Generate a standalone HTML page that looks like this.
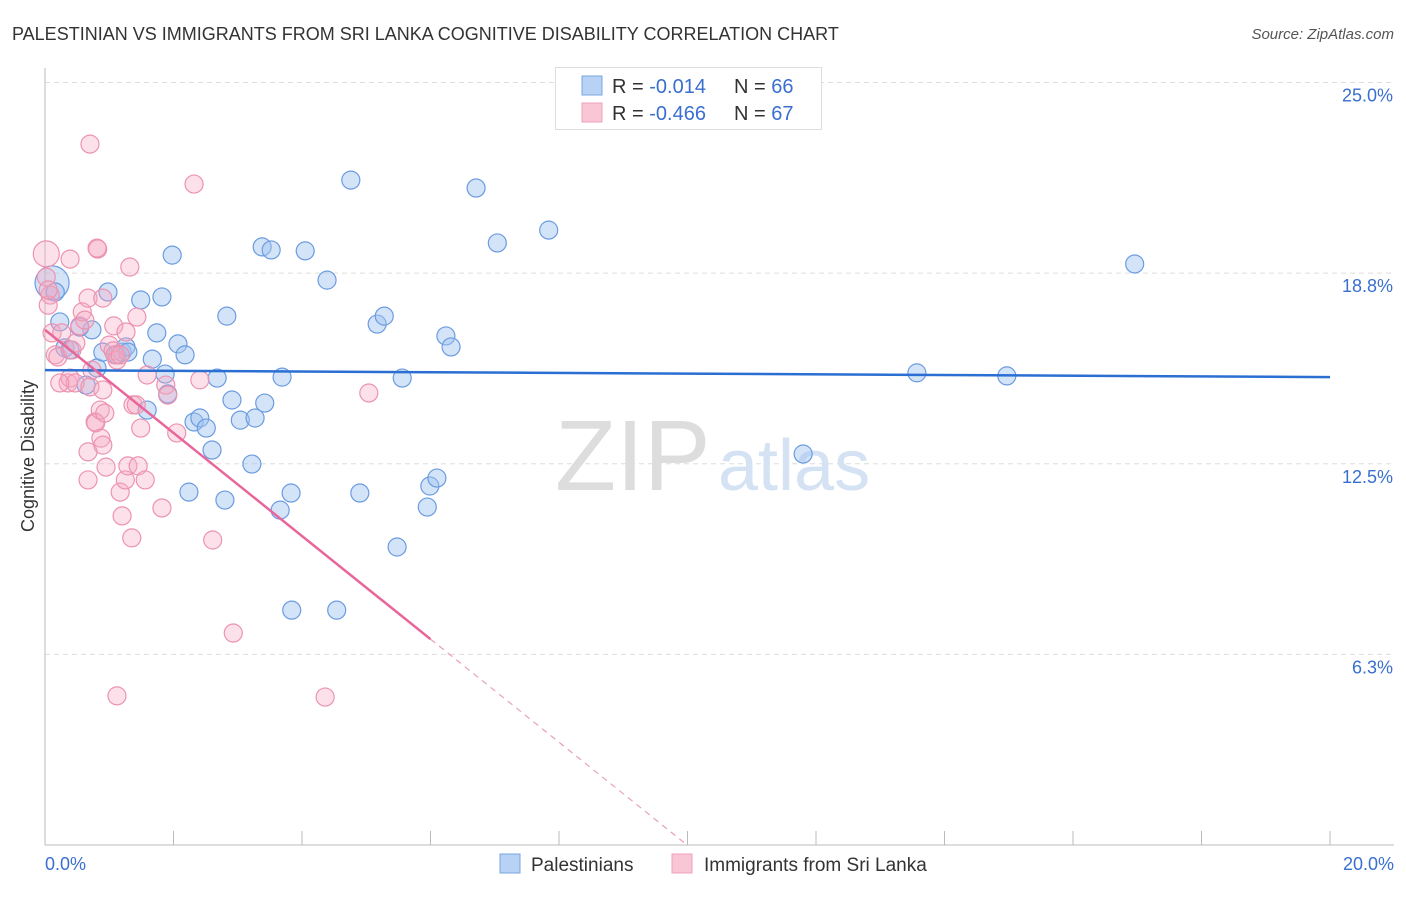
<!DOCTYPE html>
<html><head><meta charset="utf-8"><style>
body{margin:0;background:#fff;font-family:"Liberation Sans",sans-serif;}
svg text{font-family:"Liberation Sans",sans-serif;}
</style></head><body>
<svg id="chart" width="1406" height="892" xmlns="http://www.w3.org/2000/svg">
<text x="12" y="40" font-size="18" fill="#333">PALESTINIAN VS IMMIGRANTS FROM SRI LANKA COGNITIVE DISABILITY CORRELATION CHART</text>
<text x="1394" y="39" font-size="15" fill="#555" text-anchor="end" font-style="italic">Source: ZipAtlas.com</text>
<g id="grid"></g>
<g id="axes"></g>
<text x="555" y="490" font-size="100" fill="#ddd" font-family="Liberation Serif">ZIP</text>
<text x="718" y="490" font-size="72" fill="#d4e2f4">atlas</text>
<g id="pts"></g>
<g id="trends"></g>
<text transform="translate(34,456) rotate(-90)" font-size="18" fill="#333" text-anchor="middle">Cognitive Disability</text>
<g>
<rect x="555.5" y="67.5" width="266" height="62" fill="#fff" stroke="#ddd"/>
<rect x="582" y="76" width="20" height="19" fill="#b7d2f5" stroke="#7aa6e0"/>
<rect x="582" y="103" width="20" height="19" fill="#f9c6d6" stroke="#eea0ba"/>
<text x="612" y="93" font-size="20" fill="#333">R = <tspan fill="#3a6fd0">-0.014</tspan><tspan x="734">N = </tspan><tspan fill="#3a6fd0">66</tspan></text>
<text x="612" y="120" font-size="20" fill="#333">R = <tspan fill="#3a6fd0">-0.466</tspan><tspan x="734">N = </tspan><tspan fill="#3a6fd0">67</tspan></text>
</g>
<g>
<rect x="500" y="854" width="20" height="19" fill="#b7d2f5" stroke="#7aa6e0"/>
<text x="531" y="871" font-size="19" fill="#333">Palestinians</text>
<rect x="672" y="854" width="20" height="19" fill="#f9c6d6" stroke="#eea0ba"/>
<text x="704" y="871" font-size="19" fill="#333">Immigrants from Sri Lanka</text>
</g>
</svg>
<script>
const yTicks=[25,18.75,12.5,6.25];
const yTickLabels=["25.0%","18.8%","12.5%","6.3%"];
const xTicks=[0,2,4,6,8,10,12,14,16,18,20];
const blueX=[.11,.16,.23,.31,.39,.73,.54,.64,.81,.90,.98,1.12,1.20,1.26,1.29,1.49,1.67,1.74,1.82,1.87,1.98,1.91,1.59,2.07,2.18,2.32,2.41,2.51,2.60,2.68,2.83,2.91,3.04,3.27,3.22,2.24,2.80,3.38,3.52,3.42,3.69,3.66,3.83,3.84,4.05,4.39,4.54,4.76,4.90,5.17,5.28,5.48,5.56,5.95,5.99,6.10,6.24,6.32,6.71,7.04,7.84,11.80,13.57,14.97,16.96];
const blueY=[18.43,18.13,17.15,16.30,16.23,16.89,16.98,15.08,15.64,16.16,18.13,16.07,16.16,16.33,16.16,17.87,15.93,16.79,17.97,15.44,19.34,14.79,14.26,16.43,16.07,13.87,14.00,13.67,12.95,15.31,17.34,14.59,13.93,14.00,12.49,11.57,11.31,19.61,19.51,14.49,15.34,10.98,11.54,7.70,19.48,18.52,7.70,21.80,11.54,17.08,17.34,9.77,15.31,11.08,11.77,12.03,16.69,16.33,21.54,19.74,20.16,12.82,15.48,15.38,19.05];
const pinkX=[.02,.08,.05,.11,.16,.20,.26,.36,.39,.42,.47,.48,.54,.58,.62,.67,.67,.67,.70,.73,.78,.79,.82,.86,.87,.90,.95,1.00,1.06,1.07,1.12,1.17,1.20,1.25,1.26,1.29,1.32,1.35,1.37,1.43,1.45,1.49,1.56,1.59,1.82,1.88,1.91,2.05,2.32,2.41,2.61,2.93,1.12,4.36,5.04,.70,.81,.39,.02,.05,.90,1.09,.90,1.17,.23,.93,1.42];
const pinkY=[19.38,18.03,17.70,16.79,16.07,16.00,16.79,15.15,15.31,16.23,15.15,16.46,17.02,17.48,17.21,17.93,12.89,11.97,15.02,15.57,13.87,13.84,19.54,14.26,13.34,14.92,12.39,16.39,16.20,17.02,15.90,11.57,10.79,11.97,16.82,12.43,18.95,10.07,14.43,17.31,12.43,13.67,11.97,15.41,11.05,15.08,14.75,13.51,21.67,15.25,10.00,6.95,4.89,4.85,14.82,22.98,19.57,19.21,18.62,18.20,17.93,16.07,13.11,16.07,15.15,14.16,14.43];
const blueTrend=[15.57,15.34];
const pinkTrend=[16.89,-1.69];
const NS="http://www.w3.org/2000/svg";
const X=v=>45+v*64.25, Y=v=>845-v*30.5;
function mk(t,a,p){const e=document.createElementNS(NS,t);for(const k in a)e.setAttribute(k,a[k]);p.appendChild(e);return e;}
const grid=document.getElementById('grid'),axes=document.getElementById('axes');
yTicks.forEach((v,i)=>{
 const l=mk('line',{x1:45,x2:1394,y1:Y(v),y2:Y(v),stroke:'#ddd','stroke-dasharray':'5,4'},grid);
 
 
 const t=mk('text',{x:1393,y:Y(v)+19,'font-size':18,fill:'#3a6fd0','text-anchor':'end'},axes);
 t.textContent=yTickLabels[i];
 
 
});
const ax=mk('line',{x1:45,x2:45,y1:68,y2:845,stroke:'#bbb'},axes);


const bx=mk('line',{x1:45,x2:1394,y1:845,y2:845,stroke:'#bbb'},axes);


xTicks.forEach(v=>{const l=mk('line',{x1:X(v),x2:X(v),y1:831,y2:845,stroke:'#bbb'},axes);
 
 });
const t0=mk('text',{x:45,y:870,'font-size':18,fill:'#3a6fd0'},axes);t0.textContent='0.0%';


const t1=mk('text',{x:1394,y:870,'font-size':18,fill:'#3a6fd0','text-anchor':'end'},axes);t1.textContent='20.0%';


const pts=document.getElementById('pts');
blueX.forEach((v,i)=>{const c=mk('circle',{cx:X(v),cy:Y(blueY[i]),r:i==0?17:9,fill:'rgba(160,196,240,0.45)',stroke:'#6b9be0','stroke-width':1.2},pts);
 
 });
pinkX.forEach((v,i)=>{const c=mk('circle',{cx:X(v),cy:Y(pinkY[i]),r:i==0?13:9,fill:'rgba(246,170,195,0.35)',stroke:'#ec93b0','stroke-width':1.2},pts);
 
 });
const tr=document.getElementById('trends');
const b=mk('line',{x1:X(0),y1:Y(blueTrend[0]),x2:X(20),y2:Y(blueTrend[1]),stroke:'#2a6fd1','stroke-width':2.5},tr);


const pz=-pinkTrend[0]/pinkTrend[1];
const p=mk('line',{x1:X(0),y1:Y(pinkTrend[0]),x2:X(6),y2:Y(pinkTrend[0]+6*pinkTrend[1]),stroke:'#e8669a','stroke-width':2.5},tr);


const pd=mk('line',{x1:X(6),y1:Y(pinkTrend[0]+6*pinkTrend[1]),x2:X(pz),y2:Y(0),stroke:'#e8a0b8','stroke-width':1.2,'stroke-dasharray':'6,5'},tr);


</script>
</body></html>
